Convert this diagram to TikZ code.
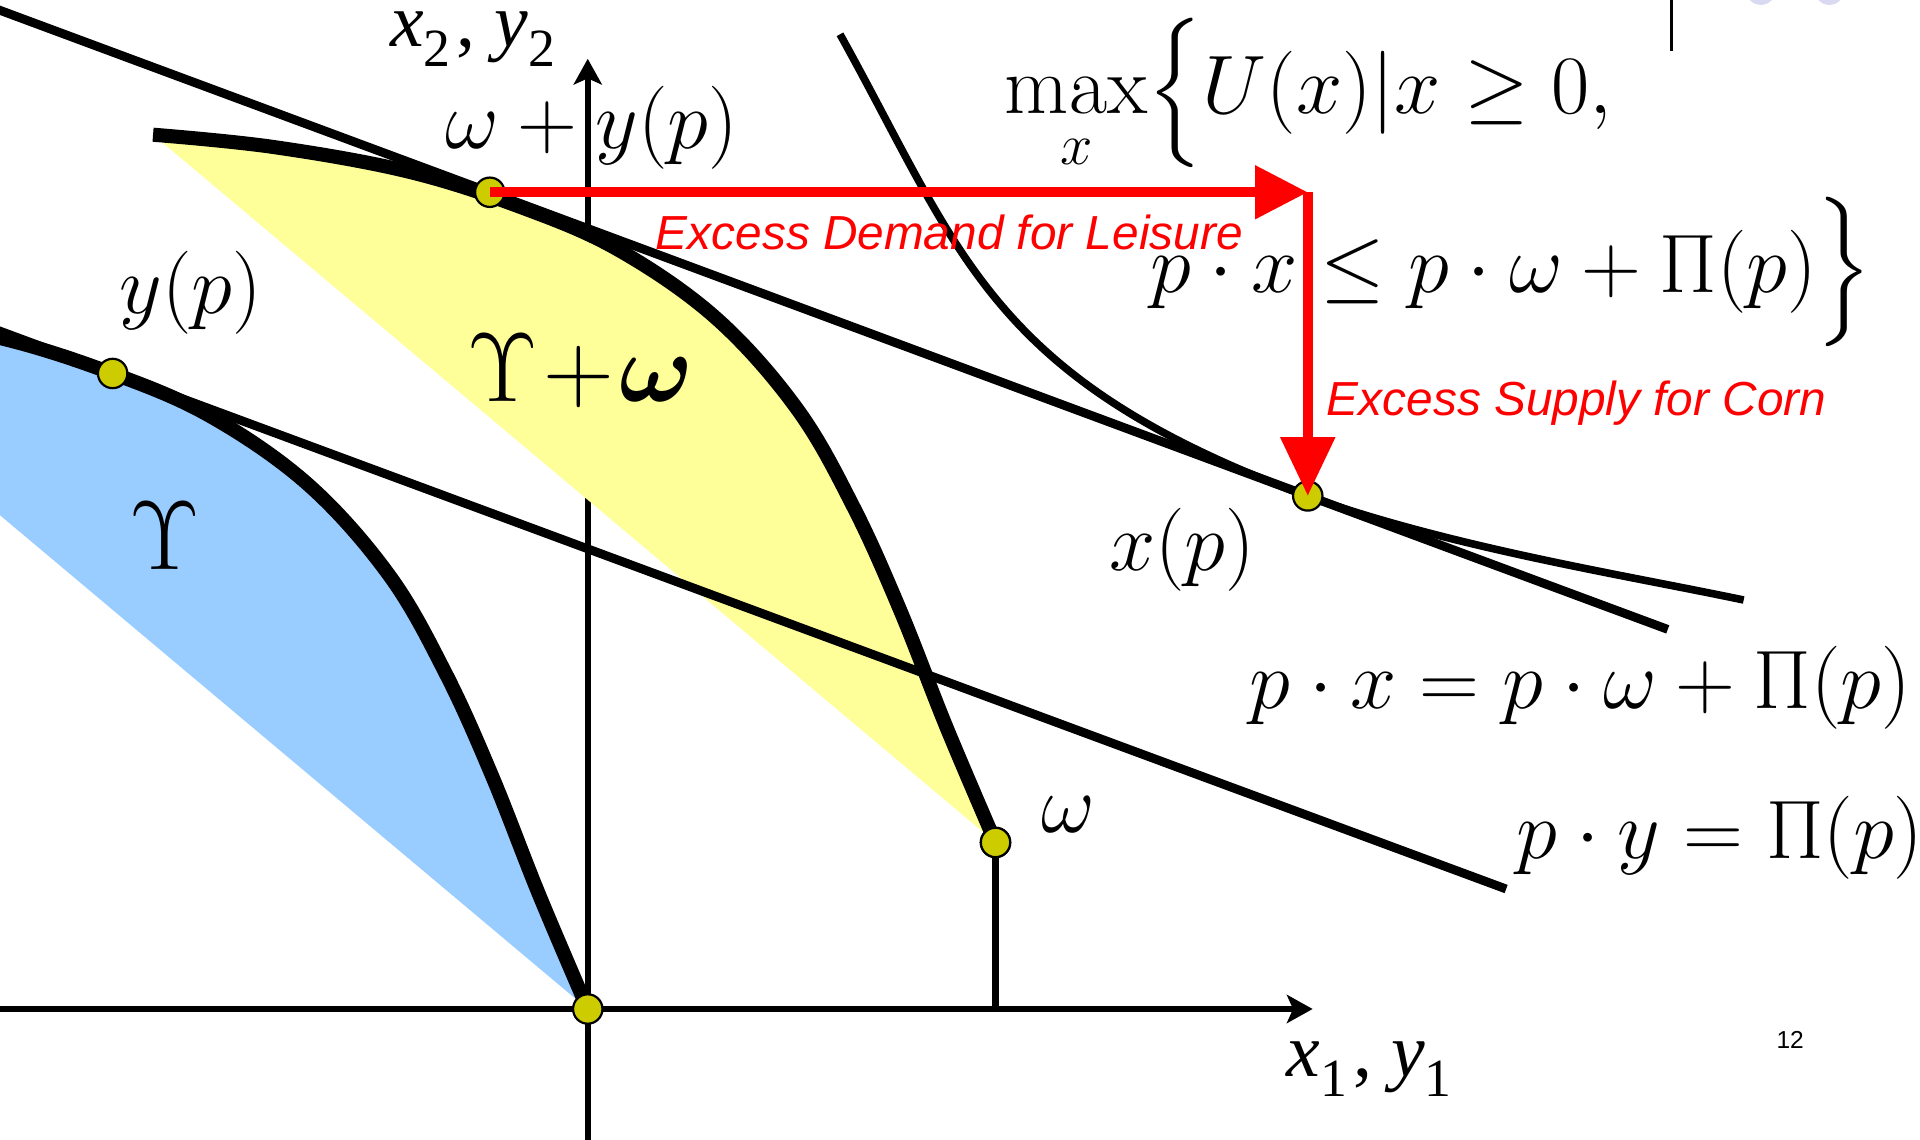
\RequirePackage{fix-cm}
\documentclass[tikz,border=0pt]{standalone}
\usepackage{amsmath,amssymb}
\usepackage{bm}
\usepackage{fontspec}
\newfontfamily\arialfont{Liberation Sans}
\newfontfamily\timesfont{Liberation Serif}
\usetikzlibrary{arrows.meta}
\definecolor{setblue}{HTML}{99CCFF}
\definecolor{setyellow}{HTML}{FFFF99}
\definecolor{dotfill}{HTML}{CCCC00}
\definecolor{lavgrey}{HTML}{D9D9F2}
\newcommand{\tsubvar}[2]{{\itshape #1}\raisebox{-0.26em}{\fontsize{12.5}{13}\selectfont #2}}
\tikzset{
  axisline/.style={line width=0.5mm, -{Stealth[length=2.1mm,width=2.3mm,inset=0.5mm]}},
  bline/.style={line width=0.72mm},
  boundline/.style={line width=1.15mm},
  indiff/.style={line width=0.62mm},
  dotnode/.style={circle, fill=dotfill, draw=black, line width=0.18mm, minimum size=2.4mm, inner sep=0pt},
  redarrow/.style={red, line width=0.8mm},
  mathlbl/.style={inner sep=0pt, font=\fontsize{19.3}{21}\selectfont},
  setlbl/.style={inner sep=0pt, font=\fontsize{22.8}{25}\selectfont},
  redlbl/.style={inner sep=0pt, red, font=\arialfont\itshape\fontsize{11.1}{12}\selectfont},
  timeslbl/.style={inner sep=0pt, font=\timesfont\fontsize{17.6}{20}\selectfont},
}
\begin{document}
\begin{tikzpicture}[x=0.1mm, y=-0.1mm]
\useasboundingbox (0,0) rectangle (1568,931);
\clip (0,0) rectangle (1568,931);

% decorations at top right
\fill[lavgrey] (1438,-8) circle[radius=1.2mm];
\fill[lavgrey] (1494,-8) circle[radius=1.2mm];
\coordinate (tl1) at (1365,0);
\coordinate (tl2) at (1365,42);
\draw[line width=0.2mm] (tl1) -- (tl2);

% production set Upsilon (blue)
\fill[setblue] plot[smooth, tension=0.6] coordinates {(-208,246) (-110,256) (0,276) (92,305) (172,340) (252,396) (318,470) (364,550) (402,634) (440,730) (480,824)} -- cycle;

% axes
\coordinate (hs) at (-10,824);
\coordinate (he) at (1072,824);
\coordinate (vs) at (480,940);
\coordinate (ve) at (480,48);
\draw[axisline] (hs) -- (he);
\draw[axisline] (vs) -- (ve);

% Upsilon + omega (yellow)
\begin{scope}[shift={(333,-136)}]
\fill[setyellow] plot[smooth, tension=0.6] coordinates {(-208,246) (-110,256) (0,276) (92,305) (172,340) (252,396) (318,470) (364,550) (402,634) (440,730) (480,824)} -- cycle;
\draw[boundline] plot[smooth, tension=0.6] coordinates {(-208,246) (-110,256) (0,276) (92,305) (172,340) (252,396) (318,470) (364,550) (402,634) (440,730) (480,824)};
\end{scope}
\draw[boundline] plot[smooth, tension=0.6] coordinates {(-208,246) (-110,256) (0,276) (92,305) (172,340) (252,396) (318,470) (364,550) (402,634) (440,730) (480,824)};

% budget lines
\coordinate (b1s) at (-20,1);
\coordinate (b1e) at (1362,514);
\coordinate (b2s) at (-20,263);
\coordinate (b2e) at (1230,726);
\draw[bline] (b1s) -- (b1e);
\draw[bline] (b2s) -- (b2e);

% indifference curve
\coordinate (ic1) at (686,28);
\coordinate (ic3) at (1424,490);
\coordinate (xpc) at (1067,405);
\draw[indiff] (ic1) .. controls (786,208) and (807,308.5) .. (xpc) .. controls (1187,447.5) and (1324,469) .. (ic3);

% endowment vertical
\coordinate (wbot) at (813,824);

% dots
\node[dotnode] (O) at (480,824) {};
\node[dotnode] (om) at (813,688) {};
\node[dotnode] (yp) at (92,305) {};
\node[dotnode] (wyp) at (400,157) {};
\node[dotnode] (xp) at (1068,405) {};
\draw[line width=0.6mm] (om.center) -- (wbot);
\node[dotnode] at (om.center) {};

% red arrows
\coordinate (corner) at (1068,157);
\draw[redarrow, -{Triangle[length=4.3mm,width=4.2mm]}] (wyp.center) -- (corner);
\draw[redarrow, -{Triangle[length=4.8mm,width=4.3mm]}] (corner) -- (xp.center);

% labels
\node[timeslbl, anchor=base west] (x2lbl) at (318,38) {\tsubvar{x}{2}\hspace{0.08em}, \tsubvar{y}{2}};
\node[timeslbl, anchor=base west] (x1lbl) at (1050,879) {\tsubvar{x}{1}\hspace{0.08em}, \tsubvar{y}{1}};
\node[mathlbl, anchor=base west] (wyplbl) at (363,121) {$\omega + y(p)$};
\node[mathlbl, anchor=base west] (yplbl) at (97,256) {$y(p)$};
\node[mathlbl, anchor=base west] (xplbl) at (905,466) {$x(p)$};
\node[mathlbl, anchor=base west] (omlbl) at (850,680) {$\omega$};
\node[mathlbl, anchor=base west] (eq1) at (1020,579) {$p\cdot x = p\cdot\omega + \Pi(p)$};
\node[mathlbl, anchor=base west] (eq2) at (1238,701) {$p\cdot y = \Pi(p)$};
\node[mathlbl, anchor=base west] (max1) at (820,93) {$\displaystyle\max_x\!\Big\{ U(x) | x \geq 0,$};
\node[mathlbl, anchor=base west] (max2) at (939,239) {$p\cdot x \leq p\cdot\omega + \Pi(p) \Big\}$};
\node[setlbl, anchor=base] (ups) at (135,465) {$\Upsilon$};
\node[setlbl, anchor=base west] (upsw) at (381,328) {$\Upsilon\mkern1mu{+}\mkern1mu\bm{\omega}$};
\node[redlbl, anchor=base west] (edl) at (535,204) {Excess Demand for Leisure};
\node[redlbl, anchor=base west] (esc) at (1083,339) {Excess Supply for Corn};
\node[inner sep=0pt, font=\arialfont\fontsize{5.7}{6}\selectfont] (pg) at (1462,849) {12};
\end{tikzpicture}
\end{document}
